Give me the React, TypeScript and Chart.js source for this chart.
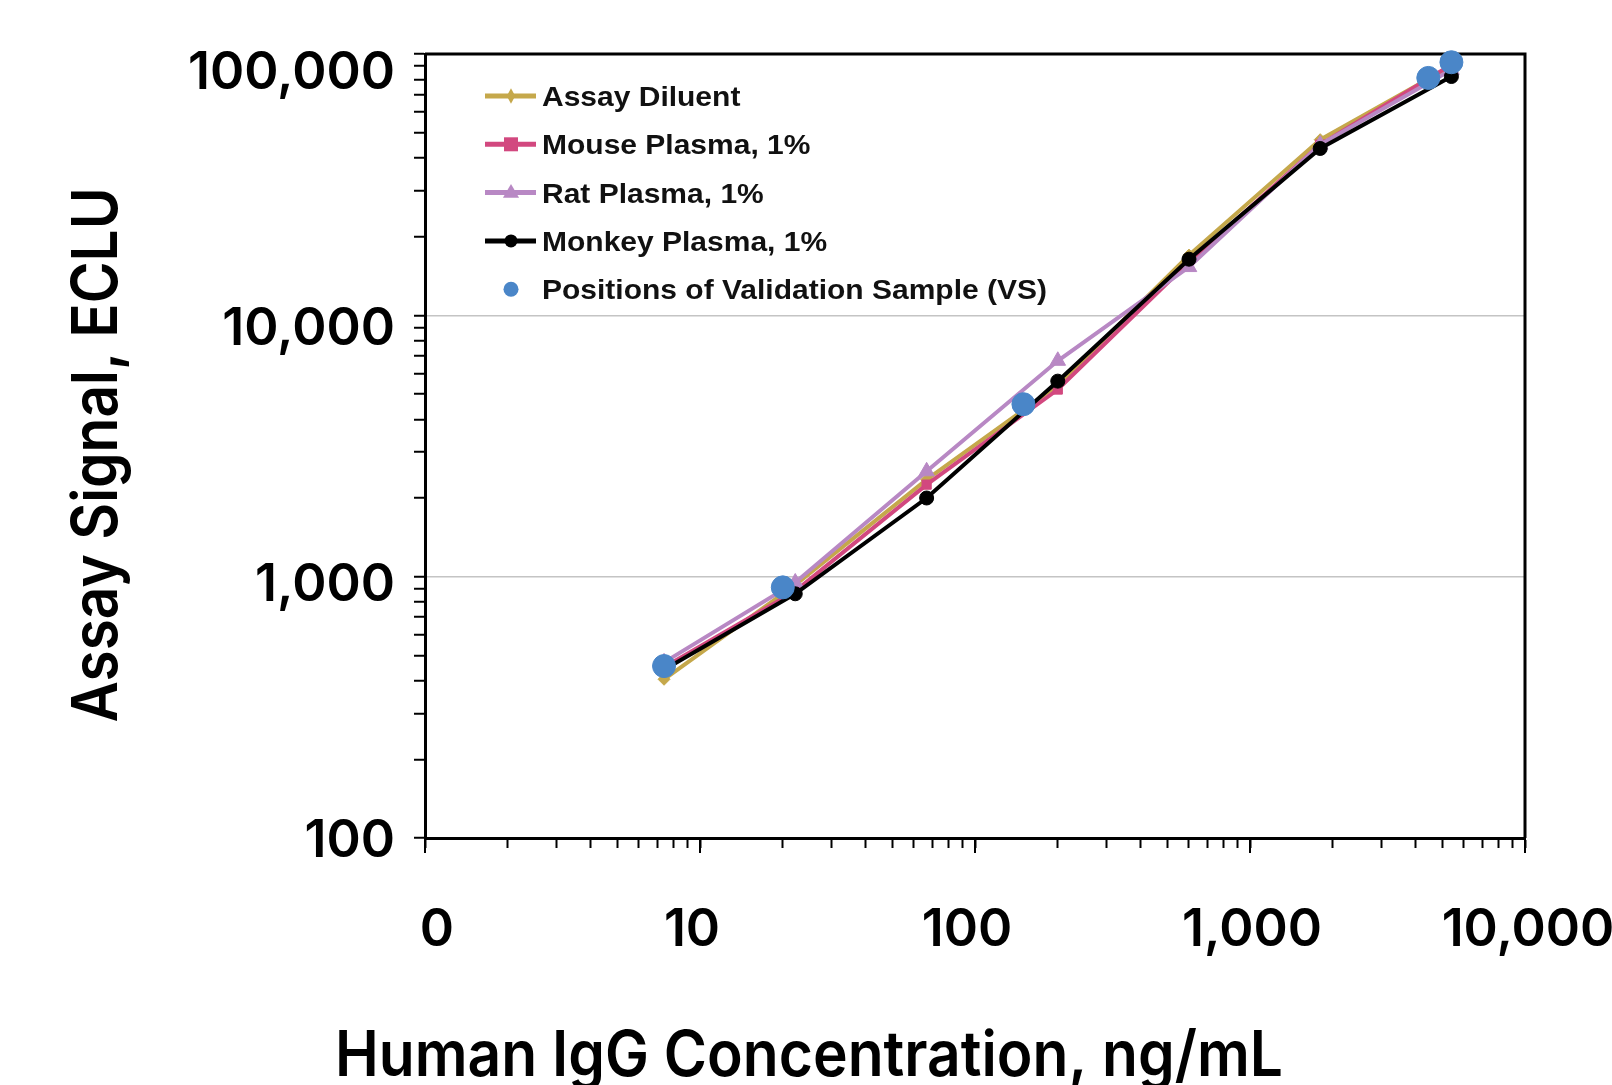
import React, { useEffect, useRef } from 'react';
import { Chart, registerables } from 'chart.js';

Chart.register(...registerables);

// ---- data ----
const concentrations = [7.4, 22.2, 66.7, 200, 600, 1800, 5400];
const assayDiluent = [405, 930, 2350, 5400, 17000, 47000, 90000];
const mousePlasma = [450, 880, 2250, 5200, 16000, 45000, 91000];
const ratPlasma = [470, 950, 2530, 6700, 15300, 45000, 87000];
const monkeyPlasma = [440, 860, 2000, 5600, 16400, 43500, 82000];
const vsConcentrations = [7.4, 20, 150, 4450, 5400];
const vsSignals = [455, 910, 4570, 81000, 93000];

const seriesLabels = [
  'Assay Diluent',
  'Mouse Plasma, 1%',
  'Rat Plasma, 1%',
  'Monkey Plasma, 1%',
  'Positions of Validation Sample (VS)',
];
const xTickValues = [1, 10, 100, 1000, 10000];
const xTickLabels = ['0', '10', '100', '1,000', '10,000'];
const yTickValues = [100, 1000, 10000, 100000];
const yTickLabels = ['100', '1,000', '10,000', '100,000'];
const gridValues = [1000, 10000];
const xTitle = 'Human IgG Concentration, ng/mL';
const yTitle = 'Assay Signal, ECLU';

// small horizontal nudges of the x tick labels (layout only)
const xLabelNudge = [12, -8, -8, 2, 3];

function logTicks(min: number, max: number) {
  const out: { value: number }[] = [];
  for (let d = min; d < max; d *= 10) {
    for (let k = 1; k <= 9; k++) out.push({ value: d * k });
  }
  out.push({ value: max });
  return out;
}

function drawMarker(ctx: CanvasRenderingContext2D, style: string, x: number, y: number, r: number, color: string) {
  ctx.fillStyle = color;
  ctx.beginPath();
  if (style === 'circle') {
    ctx.arc(x, y, r, 0, Math.PI * 2);
  } else if (style === 'rect') {
    ctx.rect(x - r, y - r, 2 * r, 2 * r);
  } else if (style === 'rectRot') {
    ctx.moveTo(x, y - r * 1.3);
    ctx.lineTo(x + r * 0.7, y);
    ctx.lineTo(x, y + r * 1.3);
    ctx.lineTo(x - r * 0.7, y);
    ctx.closePath();
  } else if (style === 'triangle') {
    ctx.moveTo(x, y - r);
    ctx.lineTo(x + r * 0.95, y + r * 0.6);
    ctx.lineTo(x - r * 0.95, y + r * 0.6);
    ctx.closePath();
  }
  ctx.fill();
}

function fitText(
  ctx: CanvasRenderingContext2D,
  text: string,
  x: number,
  y: number,
  sx: number,
  align: CanvasTextAlign
) {
  ctx.save();
  ctx.translate(x, y);
  ctx.scale(sx, 1);
  ctx.textAlign = align;
  ctx.textBaseline = 'alphabetic';
  ctx.fillText(text, 0, 0);
  ctx.restore();
}

const framePlugin = {
  id: 'frame',
  beforeDatasetsDraw(chart: any) {
    const { ctx, chartArea: ca, scales } = chart;
    ctx.save();
    ctx.strokeStyle = '#000';
    ctx.lineWidth = 3;
    ctx.beginPath();
    ctx.moveTo(ca.left, ca.top);
    ctx.lineTo(ca.right, ca.top);
    ctx.lineTo(ca.right, ca.bottom);
    ctx.stroke();
    // longer major ticks on the x axis
    ctx.lineWidth = 2;
    xTickValues.forEach((v) => {
      const px = scales.x.getPixelForValue(v);
      ctx.beginPath();
      ctx.moveTo(px, ca.bottom);
      ctx.lineTo(px, ca.bottom + 15);
      ctx.stroke();
    });
    ctx.restore();
  },
  afterDraw(chart: any) {
    const { ctx, chartArea: ca, scales } = chart;
    const xs = scales.x;
    const ys = scales.y;
    ctx.save();
    ctx.fillStyle = '#000';

    // tick labels
    ctx.font = '600 52px Inter, "Open Sans", sans-serif';
    const tsx = 207 / ctx.measureText('100,000').width;
    yTickValues.forEach((v, i) => {
      const px = ys.getPixelForValue(v);
      const cy = ca.bottom - (ca.bottom - px) * 0.98;
      fitText(ctx, yTickLabels[i], ca.left - 30, cy + 19, tsx, 'right');
    });
    xTickValues.forEach((v, i) => {
      const px = xs.getPixelForValue(v);
      fitText(ctx, xTickLabels[i], px + xLabelNudge[i], 946, tsx, 'center');
    });

    // axis titles
    ctx.font = '600 63px Inter, "Open Sans", sans-serif';
    const xw = ctx.measureText(xTitle).width;
    fitText(ctx, xTitle, 809, 1076, 948 / xw, 'center');
    const yw = ctx.measureText(yTitle).width;
    ctx.save();
    ctx.translate(117, 455);
    ctx.rotate(-Math.PI / 2);
    fitText(ctx, yTitle, 0, 0, 535 / yw, 'center');
    ctx.restore();

    // legend
    ctx.font = 'bold 28px "Liberation Sans", Arial, sans-serif';
    const lsx = 505 / ctx.measureText(seriesLabels[4]).width;
    const sizes = [6, 7, 8.5, 6.5, 7.5];
    chart.data.datasets.forEach((ds: any, i: number) => {
      const base = 106 + i * 48.3;
      const cy = base - 10;
      if (ds.showLine !== false) {
        ctx.strokeStyle = ds.borderColor;
        ctx.lineWidth = 5;
        ctx.beginPath();
        ctx.moveTo(485, cy);
        ctx.lineTo(536, cy);
        ctx.stroke();
      }
      drawMarker(ctx, ds.pointStyle, 511, cy, sizes[i], ds.backgroundColor);
      ctx.fillStyle = '#111';
      fitText(ctx, ds.label, 542, base, lsx, 'left');
    });
    ctx.restore();
  },
};

export default function App() {
  const ref = useRef<HTMLCanvasElement>(null);
  useEffect(() => {
    const canvas = ref.current;
    if (!canvas) return;
    const mk = (xs: number[], ys: number[]) => xs.map((x, i) => ({ x, y: ys[i] }));
    const line = (label: string, data: any, color: string, style: string, r: number, order: number) => ({
      label,
      data,
      borderColor: color,
      backgroundColor: color,
      pointBackgroundColor: color,
      pointBorderColor: color,
      pointStyle: style,
      pointRadius: r,
      pointBorderWidth: 1,
      borderWidth: 4,
      order,
      clip: false as any,
    });
    const chart = new Chart(canvas, {
      type: 'line',
      data: {
        datasets: [
          line(seriesLabels[0], mk(concentrations, assayDiluent), '#C5A84B', 'rectRot', 6, 4),
          line(seriesLabels[1], mk(concentrations, mousePlasma), '#D2487F', 'rect', 6.5, 3),
          line(seriesLabels[2], mk(concentrations, ratPlasma), '#B888C4', 'triangle', 9, 2),
          line(seriesLabels[3], mk(concentrations, monkeyPlasma), '#000000', 'circle', 7, 1),
          {
            label: seriesLabels[4],
            data: mk(vsConcentrations, vsSignals),
            showLine: false,
            borderColor: '#4A86C8',
            backgroundColor: '#4A86C8',
            pointBackgroundColor: '#4A86C8',
            pointBorderColor: '#4A86C8',
            pointStyle: 'circle',
            pointRadius: 11.5,
            order: 0,
            clip: false as any,
          },
        ] as any,
      },
      options: {
        animation: false,
        responsive: true,
        maintainAspectRatio: false,
        layout: { padding: { top: 54, right: 87, left: 0, bottom: 0 } },
        plugins: { legend: { display: false }, tooltip: { enabled: false } },
        elements: { line: { tension: 0 } },
        scales: {
          x: {
            type: 'logarithmic',
            min: 1,
            max: 10000,
            afterBuildTicks: (s: any) => {
              s.ticks = logTicks(1, 10000);
            },
            afterFit: (s: any) => {
              s.height = 247;
            },
            ticks: { display: false },
            grid: { drawOnChartArea: false, drawTicks: true, tickLength: 10, tickColor: '#000', tickWidth: 2 },
            border: { display: true, color: '#000', width: 3 },
          },
          y: {
            type: 'logarithmic',
            min: 100,
            max: 100000,
            afterBuildTicks: (s: any) => {
              s.ticks = logTicks(100, 100000);
            },
            afterFit: (s: any) => {
              s.width = 425;
            },
            ticks: { display: false },
            grid: {
              drawOnChartArea: true,
              color: (c: any) => (c.tick && gridValues.includes(c.tick.value) ? '#C4C4C4' : 'rgba(0,0,0,0)'),
              lineWidth: 1.5,
              drawTicks: true,
              tickLength: 11,
              tickColor: '#000',
              tickWidth: 2,
            },
            border: { display: true, color: '#000', width: 3 },
          },
        } as any,
      },
      plugins: [framePlugin],
    });
    return () => chart.destroy();
  }, []);
  return (
    <div style={{ position: 'absolute', left: 0, top: 0, width: 1612, height: 1085, background: '#fff' }}>
      <canvas ref={ref} />
    </div>
  );
}
